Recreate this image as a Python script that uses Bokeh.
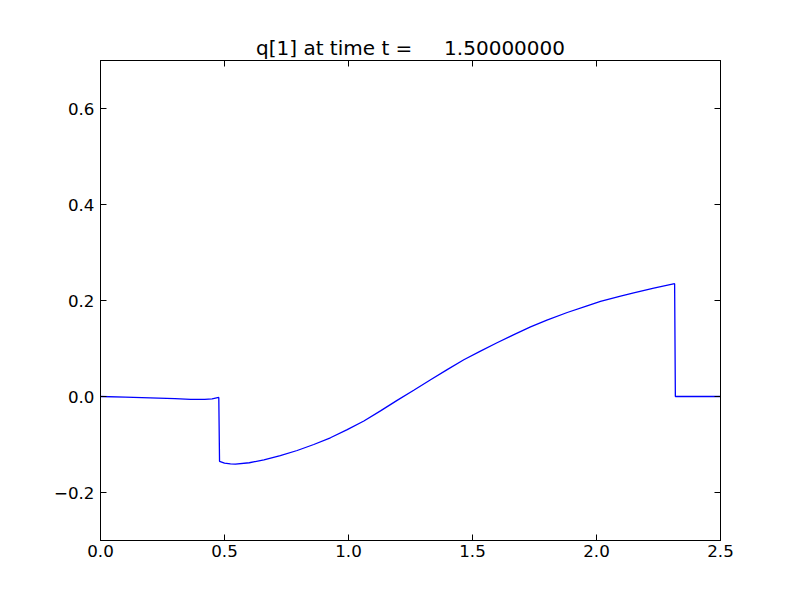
from bokeh.plotting import figure
from bokeh.models import LinearAxis, FixedTicker, CustomJSTickFormatter, Range1d
from bokeh.embed import file_html
from bokeh.resources import INLINE

# ---- data ----
x_vals = [0.0, 0.1, 0.2, 0.3, 0.363, 0.42, 0.45, 0.477, 0.480, 0.50, 0.524, 0.544,
          0.600, 0.659, 0.725, 0.793, 0.860, 0.927, 0.995, 1.062, 1.129, 1.196,
          1.263, 1.331, 1.398, 1.465, 1.532, 1.599, 1.667, 1.734, 1.800, 1.882,
          1.962, 2.016, 2.097, 2.150, 2.231, 2.315, 2.318, 2.5]
q_vals = [0.0, -0.0015, -0.003, -0.0045, -0.006, -0.006, -0.005, -0.002, -0.135, -0.139, -0.1405, -0.141,
          -0.138, -0.132, -0.123, -0.1125, -0.100, -0.086, -0.069, -0.051, -0.030, -0.008,
          0.013, 0.035, 0.056, 0.0765, 0.0945, 0.112, 0.129, 0.145, 0.159, 0.175,
          0.189, 0.198, 0.209, 0.216, 0.226, 0.235, 0.0, 0.0]
x_ticks = [0.0, 0.5, 1.0, 1.5, 2.0, 2.5]
y_ticks = [-0.2, 0.0, 0.2, 0.4, 0.6]
title_text = "q[1] at time t =\u00a0\u00a0\u00a0\u00a0\u00a01.50000000"

FONT = "DejaVu Sans"
TICK_SIZE = "16.7px"

p = figure(width=784, height=584, output_backend="svg", toolbar_location=None,
           x_range=Range1d(0, 2.5), y_range=Range1d(-0.3, 0.7),
           min_border_left=100, min_border_right=64, min_border_top=60, min_border_bottom=44,
           x_axis_location=None, y_axis_location=None)

p.title.text = title_text
p.title.align = "center"
p.title.text_font = FONT
p.title.text_font_size = "20px"
p.title.text_font_style = "normal"
p.title.text_color = "black"
p.title.standoff = 2

p.xgrid.visible = False
p.ygrid.visible = False
p.outline_line_color = "black"
p.outline_line_width = 1
p.background_fill_color = "white"
p.border_fill_color = "white"

fmt_x = CustomJSTickFormatter(code="return tick.toFixed(1).replace('-', '\u2212');")
fmt_y = CustomJSTickFormatter(code="return tick.toFixed(1).replace('-', '\u2212');")
empty = CustomJSTickFormatter(code="return '';")

def style(ax, labels=True):
    ax.major_tick_in = 6
    ax.major_tick_out = 0
    ax.minor_tick_line_color = None
    ax.axis_line_color = "black"
    ax.major_tick_line_color = "black"
    ax.major_label_text_font = FONT
    ax.major_label_text_font_size = TICK_SIZE if labels else "0px"
    ax.major_label_text_color = "black"

bottom = LinearAxis(ticker=FixedTicker(ticks=x_ticks), formatter=fmt_x)
style(bottom)
bottom.major_label_standoff = 4
left = LinearAxis(ticker=FixedTicker(ticks=y_ticks), formatter=fmt_y)
style(left)
left.major_label_standoff = 6
top = LinearAxis(ticker=FixedTicker(ticks=x_ticks), formatter=empty)
style(top, labels=False)
top.major_label_standoff = 0
right = LinearAxis(ticker=FixedTicker(ticks=y_ticks), formatter=empty)
style(right, labels=False)
right.major_label_standoff = 0

p.add_layout(bottom, "below")
p.add_layout(left, "left")
p.add_layout(top, "above")
p.add_layout(right, "right")

p.line(x_vals, q_vals, line_color="#0000ff", line_width=1.3)

open("out.html", "w").write(file_html(p, INLINE))
